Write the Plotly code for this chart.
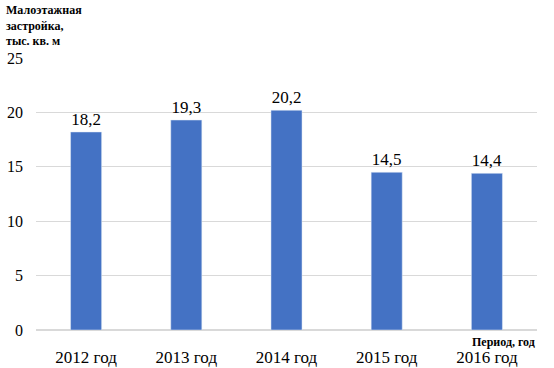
import plotly.graph_objects as go

categories = ["2012 год", "2013 год", "2014 год", "2015 год", "2016 год"]
values = [18.2, 19.3, 20.2, 14.5, 14.4]
labels = ["18,2", "19,3", "20,2", "14,5", "14,4"]
yticks = [0, 5, 10, 15, 20, 25]

SERIF = "Liberation Serif"

fig = go.Figure(go.Bar(
    x=categories, y=values, text=labels, textposition="outside",
    marker_color="#4472C4", width=0.31,
    textfont=dict(family=SERIF, size=17, color="#000"),
    cliponaxis=False,
))
fig.update_layout(
    width=554, height=368,
    margin=dict(l=36, r=17, t=58, b=38),
    plot_bgcolor="white", paper_bgcolor="white",
    showlegend=False,
    font=dict(family=SERIF, size=16, color="#000"),
    xaxis=dict(showgrid=False, showline=False, ticks="", tickfont=dict(size=17, family=SERIF),
               ticklabelstandoff=15, automargin=False),
    yaxis=dict(range=[0, 25], tickvals=yticks, showgrid=True, gridcolor="#D9D9D9",
               zeroline=True, zerolinecolor="#D9D9D9", ticks="", tickfont=dict(size=16, family=SERIF),
               ticklabelstandoff=12, automargin=False),
    annotations=[
        dict(text="<b>Малоэтажная<br>застройка,<br>тыс. кв. м</b>", xref="paper", yref="paper",
             x=-32/501, y=1 + 57/272, xanchor="left", yanchor="top", showarrow=False,
             align="left", font=dict(size=12, family=SERIF)),
        dict(text="<b>Период, год</b>", xref="paper", yref="paper",
             x=1, y=-3/272, xanchor="right", yanchor="top", showarrow=False,
             font=dict(size=12, family=SERIF)),
    ],
)
fig.write_html("out.html", post_script="document.body.style.margin='0';", config={"displayModeBar": False})
